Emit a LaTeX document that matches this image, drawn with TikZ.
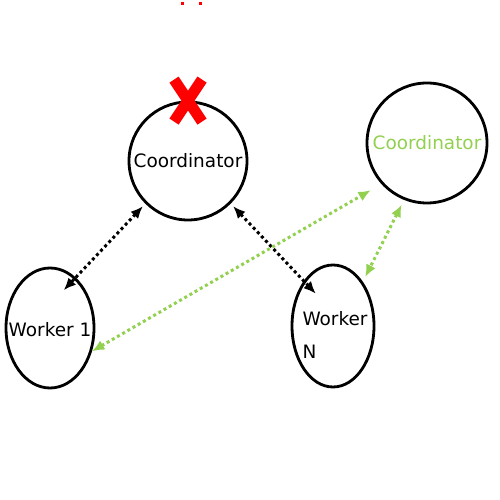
\documentclass[tikz,border=0pt]{standalone}
\usepackage{fontspec}
\setmainfont{DejaVu Sans}
\usetikzlibrary{arrows.meta,shapes.geometric}
\definecolor{grass}{RGB}{146,208,80}

\begin{document}
\begin{tikzpicture}
    \tikzstyle{every node}=[font=\fontsize{10.5}{19}\selectfont]
    \tikzstyle{host}=[draw,line width=1.6pt,circle,inner sep=0pt]
    \tikzstyle{box}=[draw,line width=1.6pt,ellipse,inner sep=0pt]
    \tikzstyle{link}=[{Latex[length=7pt,width=6pt]}-{Latex[length=7pt,width=6pt]},
        line width=1.7pt,dash pattern=on 1.7pt off 1.7pt]
    \useasboundingbox (0,0) rectangle (9.98,10);

    % failed coordinator
    \node[host,minimum size=2.36cm] (c1) at (3.76,6.78) {};
    \node (c1label) at (c1) {Coordinator};
    \draw[red,line width=0.22cm] ([shift={(-0.28,0.42)}]c1.north) -- ([shift={(0.28,-0.42)}]c1.north);
    \draw[red,line width=0.22cm] ([shift={(0.28,0.42)}]c1.north) -- ([shift={(-0.28,-0.42)}]c1.north);
    \fill[red] (3.62,9.9) rectangle +(0.05,0.05);
    \fill[red] (3.98,9.9) rectangle +(0.05,0.05);

    % new coordinator
    \node[host,minimum size=2.4cm] (c2) at (8.54,7.14) {};
    \node[text=grass] (c2label) at (c2) {Coordinator};

    % workers
    \node[box,minimum width=1.76cm,minimum height=2.4cm] (w1) at (1.0,3.44) {};
    \node (w1label) at ([yshift=-0.04cm]w1) {Worker 1};

    \node[box,minimum width=1.64cm,minimum height=2.44cm] (wN) at (6.66,3.48) {};
    \node[align=left] (wNlabel) at ([shift={(0.04,-0.18)}]wN) {Worker\\N};

    \draw[link,shorten <=2pt,shorten >=-10pt] (c1.225) -- (w1.63);
    \draw[link,shorten <=2pt,shorten >=-10pt] (c1.315) -- (wN.123);

    \draw[link,grass,shorten >=7pt] (w1.-29) -- (c2.222);
    \draw[link,grass,shorten <=3pt,shorten >=3pt] (c2.248) -- (wN.56);

\end{tikzpicture}
\end{document}
